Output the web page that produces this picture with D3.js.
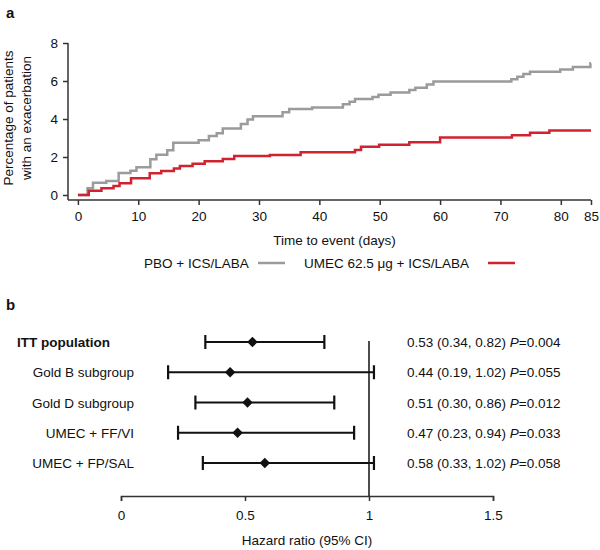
<!DOCTYPE html>
<html><head><meta charset="utf-8">
<script src="https://cdn.jsdelivr.net/npm/d3@7"></script>
<style>
html,body{margin:0;padding:0;background:#fff;}
text{font-family:"Liberation Sans",Arial,sans-serif;fill:#111;}
</style></head>
<body>
<svg id="c" width="600" height="550"></svg>
<script>
// Panel a: Kaplan-Meier style cumulative incidence (steps: [day, percentage])
const pboDays = [0,1.6,2.5,4.7,6.75,8.7,9.7,12.0,13.0,14.8,15.8,20.0,21.7,23.0,24.0,27.0,28.1,29.0,33.9,35.0,38.8,43.9,45.0,45.9,48.8,49.8,51.8,54.9,55.9,57.8,58.9,71.8,72.8,73.8,74.9,79.9,82.0,84.9,85];
const pboPct  = [0,0.35,0.65,0.74,1.16,1.28,1.46,1.88,2.12,2.35,2.75,2.88,3.1,3.25,3.5,3.74,3.97,4.14,4.35,4.53,4.61,4.77,4.91,5.05,5.16,5.28,5.4,5.53,5.65,5.82,5.98,6.09,6.23,6.37,6.49,6.6,6.74,6.93,6.93];
const umecDays = [0,1.8,3.9,5.9,6.9,8.8,11.9,13.8,15.9,16.9,19.0,21.0,24.0,25.9,31.8,36.9,45.9,46.9,49.9,54.9,60.0,71.9,74.9,78.1,85];
const umecPct  = [0,0.23,0.35,0.48,0.62,0.88,1.14,1.26,1.4,1.52,1.64,1.77,1.9,2.05,2.1,2.25,2.37,2.54,2.65,2.77,3.02,3.14,3.28,3.4,3.4];
const xTicksA = [0,10,20,30,40,50,60,70,80,85];
const yTicksA = [0,2,4,6,8];
const seriesNames = ["PBO + ICS/LABA","UMEC 62.5 \u03bcg + ICS/LABA"];

// Panel b: forest plot
const groups = ["ITT population","Gold B subgroup","Gold D subgroup","UMEC + FF/VI","UMEC + FP/SAL"];
const hr    = [0.53,0.44,0.51,0.47,0.58];
const lower = [0.34,0.19,0.30,0.23,0.33];
const upper = [0.82,1.02,0.86,0.94,1.02];
const pvals = ["0.004","0.055","0.012","0.033","0.058"];
const xTicksB = [0,0.5,1,1.5];

const svg = d3.select("#c");
const FS = "13.5px";
const grayC = "#9b9b9b", redC = "#d1232f", axC = "#333";

// ---------- Panel a ----------
svg.append("text").attr("x",6).attr("y",18).style("font-weight","bold").style("font-size","15px").text("a");
const xA = d3.scaleLinear().domain([0,85]).range([77.9,591]);
const yA = d3.scaleLinear().domain([0,8]).range([195,43]);
const gA = svg.append("g");
gA.append("line").attr("x1",68).attr("x2",68).attr("y1",yA(8)).attr("y2",200).attr("stroke",axC).attr("stroke-width",1.5);
gA.append("line").attr("x1",68).attr("x2",xA(85)).attr("y1",200).attr("y2",200).attr("stroke",axC).attr("stroke-width",1.5);
const ax = gA.append("g").attr("transform","translate(0,200)")
  .call(d3.axisBottom(xA).tickValues(xTicksA).tickSize(5).tickPadding(6).tickFormat(d3.format("d")));
ax.select(".domain").remove();
ax.selectAll("line").attr("stroke",axC).attr("stroke-width",1.5);
ax.selectAll("text").style("font-size",FS).attr("fill","#111");
const ay = gA.append("g").attr("transform","translate(68,0)")
  .call(d3.axisLeft(yA).tickValues(yTicksA).tickSize(5).tickPadding(5).tickFormat(d3.format("d")));
ay.select(".domain").remove();
ay.selectAll("line").attr("stroke",axC).attr("stroke-width",1.5);
ay.selectAll("text").style("font-size",FS).attr("fill","#111");
gA.append("text").attr("x",(xA(0)+xA(85))/2).attr("y",245).attr("text-anchor","middle").style("font-size",FS).text("Time to event (days)");
const yl = gA.append("text").attr("transform","translate(0,118) rotate(-90)").attr("text-anchor","middle").style("font-size",FS);
yl.append("tspan").attr("x",0).attr("y",13).text("Percentage of patients");
yl.append("tspan").attr("x",0).attr("y",31).text("with an exacerbation");

const stepLine = d3.line().x(d=>xA(d[0])).y(d=>yA(d[1])).curve(d3.curveStepAfter);
gA.append("path").datum(d3.zip(pboDays,pboPct)).attr("d",stepLine).attr("fill","none").attr("stroke",grayC).attr("stroke-width",2.5);
gA.append("path").datum(d3.zip(umecDays,umecPct)).attr("d",stepLine).attr("fill","none").attr("stroke",redC).attr("stroke-width",2.5);

// legend
const lg = svg.append("g");
lg.append("text").attr("x",144).attr("y",268).style("font-size",FS).text(seriesNames[0]);
lg.append("line").attr("x1",258).attr("x2",285).attr("y1",263).attr("y2",263).attr("stroke",grayC).attr("stroke-width",2.5);
lg.append("text").attr("x",304).attr("y",268).style("font-size",FS).text(seriesNames[1]);
lg.append("line").attr("x1",488).attr("x2",515).attr("y1",263).attr("y2",263).attr("stroke",redC).attr("stroke-width",2.5);

// ---------- Panel b ----------
svg.append("text").attr("x",6).attr("y",310).style("font-weight","bold").style("font-size","15px").text("b");
const xB = d3.scaleLinear().domain([0,1.5]).range([121,493]);
const yB = d3.scalePoint().domain(groups).range([342,463]);
const gB = svg.append("g");
const bx = gB.append("g").attr("transform","translate(0,496)")
  .call(d3.axisBottom(xB).tickValues(xTicksB).tickSize(5).tickPadding(9).tickFormat(d=>d3.format("")(d)));
bx.select(".domain").attr("stroke",axC).attr("stroke-width",1.5);
bx.selectAll("line").attr("stroke",axC).attr("stroke-width",1.5);
bx.selectAll("text").style("font-size",FS).attr("fill","#111");
gB.append("text").attr("x",(xB(0)+xB(1.5))/2).attr("y",545).attr("text-anchor","middle").style("font-size",FS).text("Hazard ratio (95% CI)");
gB.append("line").attr("x1",xB(1)).attr("x2",xB(1)).attr("y1",yB(groups[0])-1).attr("y2",496).attr("stroke","#111").attr("stroke-width",1.5);

groups.forEach((g,i)=>{
  const y = yB(g);
  const t = gB.append("text").attr("y",y+5).style("font-size",FS);
  if(i===0){ t.attr("x",17).style("font-weight","bold"); }
  else { t.attr("x",134).attr("text-anchor","end"); }
  t.text(g);
  gB.append("line").attr("x1",xB(lower[i])).attr("x2",xB(upper[i])).attr("y1",y).attr("y2",y).attr("stroke","#111").attr("stroke-width",2.2);
  [lower[i],upper[i]].forEach(v=>{
    gB.append("line").attr("x1",xB(v)).attr("x2",xB(v)).attr("y1",y-7).attr("y2",y+7).attr("stroke","#111").attr("stroke-width",2.2);
  });
  gB.append("path").attr("transform",`translate(${xB(hr[i])},${y})`)
    .attr("d",d3.symbol(d3.symbolDiamond2,70)()).attr("fill","#111");
  const rt = gB.append("text").attr("x",407).attr("y",y+5).style("font-size",FS);
  rt.append("tspan").text(`${hr[i].toFixed(2)} (${lower[i].toFixed(2)}, ${upper[i].toFixed(2)}) `);
  rt.append("tspan").style("font-style","italic").text("P");
  rt.append("tspan").text("="+pvals[i]);
});
</script>
</body></html>
